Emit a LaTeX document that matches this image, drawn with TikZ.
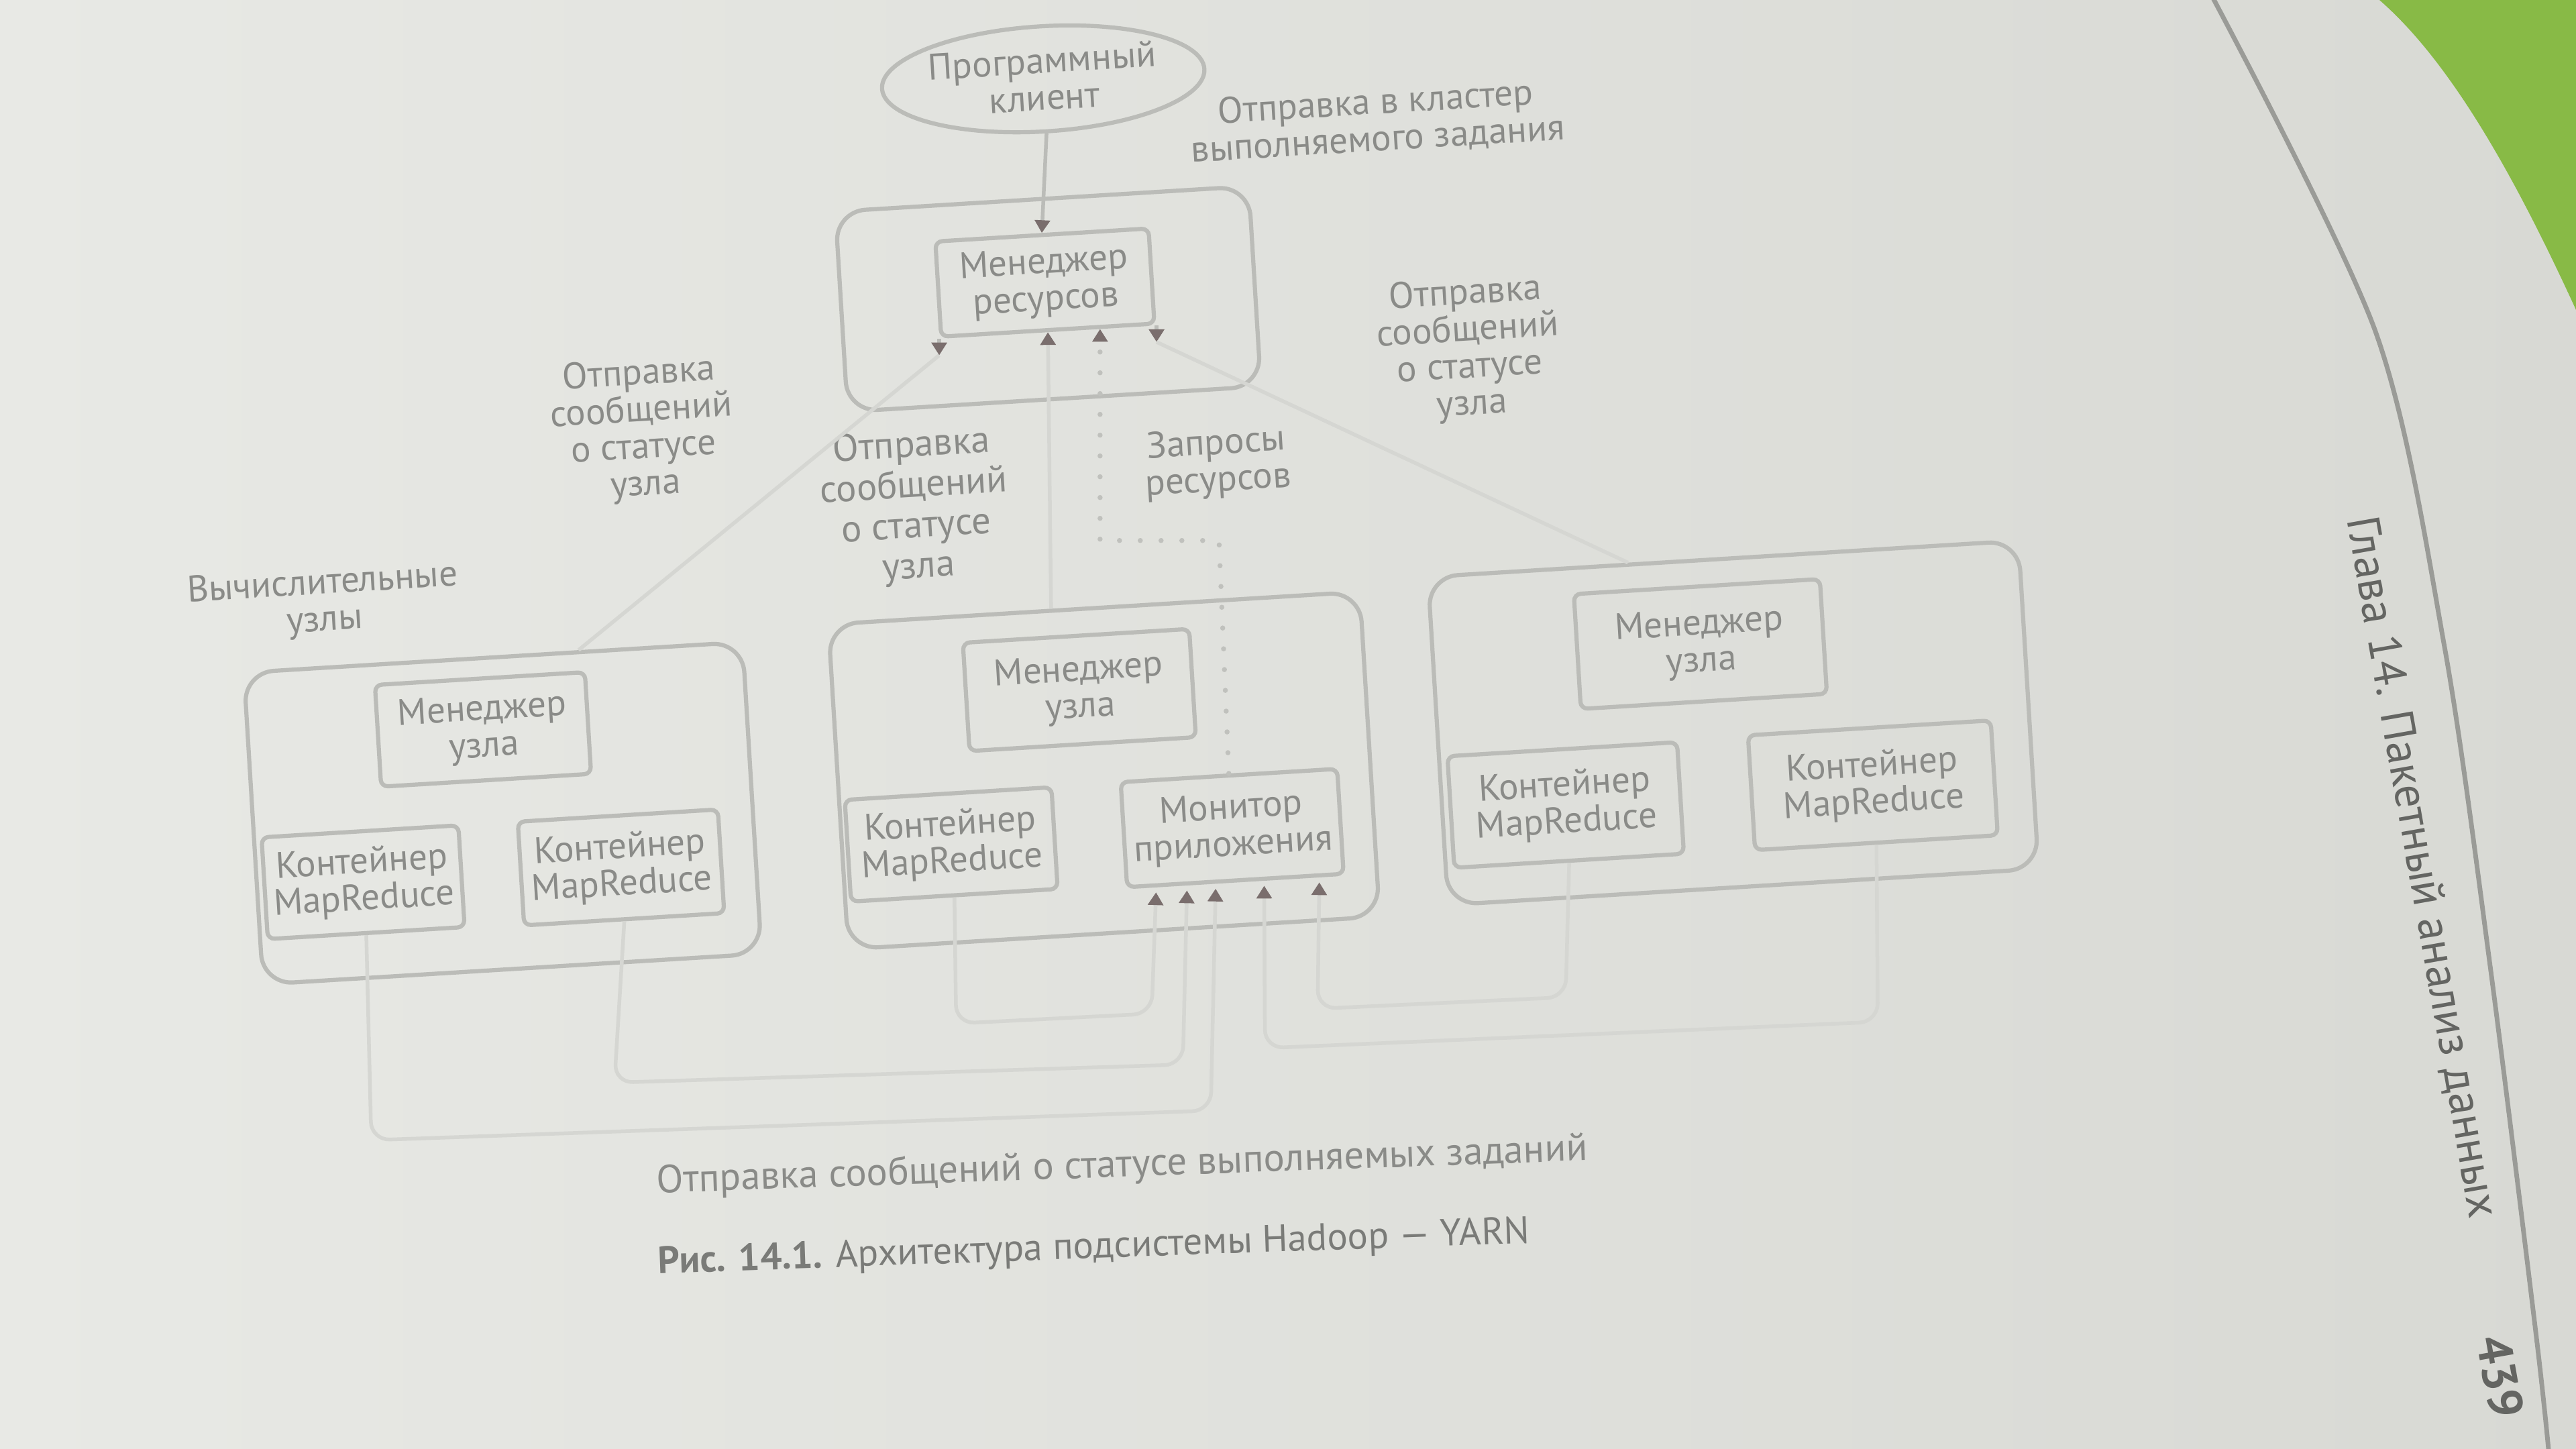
\documentclass[tikz,border=0pt]{standalone}
\usepackage{fontspec}
\setmainfont{PT Sans}
\usetikzlibrary{arrows.meta,shapes.geometric,calc}
\definecolor{bgL}{HTML}{E8E9E5}
\definecolor{bgR}{HTML}{D8D9D4}
\definecolor{boxc}{HTML}{BBBCB8}
\definecolor{faintc}{HTML}{D5D6D2}
\definecolor{dotc}{HTML}{C0C1BD}
\definecolor{txtc}{HTML}{8A8B88}
\definecolor{capc}{HTML}{7A7B78}
\definecolor{tipc}{HTML}{7A6E6D}
\definecolor{leafc}{HTML}{88BA46}
\definecolor{edgec}{HTML}{9A9B97}
\definecolor{hdrc}{HTML}{646562}
\tikzset{
  dtext/.style={text=txtc, font=\fontsize{16}{16}\selectfont, align=center},
  outerbox/.style={draw=boxc, line width=1.8pt, rounded corners=13pt, rotate=3.5},
  innerbox/.style={draw=boxc, line width=1.8pt, rounded corners=3pt, rotate=3.5, dtext, inner sep=0pt},
  lbl/.style={dtext, rotate=3.5, inner sep=0pt},
  faintline/.style={draw=faintc, line width=1.6pt},
  boxline/.style={draw=boxc, line width=1.6pt},
  tipT/.style={-{Triangle[length=5.5pt,width=6.5pt,color=tipc]}},
  dotline/.style={draw=dotc, line width=2.2pt, line cap=round, dash pattern=on 0pt off 9pt},
}
\begin{document}
\begin{tikzpicture}[x=0.025cm,y=-0.025cm]
\useasboundingbox (0,0) rectangle (1568,882);
% page background
\fill[left color=bgL, right color=bgR] (0,0) rectangle (1568,882);
\fill[leafc] (1446,-2) .. controls (1490,35) and (1530,105) .. (1570,193) -- (1570,-2) -- cycle;
\draw[draw=edgec, line width=2pt] plot[smooth] coordinates {(1345,-5) (1446,202) (1488,394) (1516,590) (1544,815) (1552,890)};

% header and page number
\node[text=hdrc, font=\fontsize{20}{24}\selectfont, rotate=-80] (hdr) at (1474,528) {Глава 14. Пакетный анализ данных};
\node[text=hdrc, font=\bfseries\fontsize{21}{24}\selectfont, rotate=-80] (pg) at (1522,838) {439};

% client and resource manager
\node[draw=boxc, line width=1.8pt, ellipse, rotate=3.5, minimum width=4.7cm, minimum height=1.6cm, dtext, inner sep=0pt] (client) at (635,48) {Программный\\клиент};
\node[lbl] (lsend) at (838,74) {Отправка в кластер\\выполняемого задания};
\node[outerbox, minimum width=6.3cm, minimum height=3.05cm] (rm) at (638,182) {};
\node[innerbox, minimum width=3.25cm, minimum height=1.45cm] (rmi) at (636,172) {Менеджер\\ресурсов};

% node 1
\node[outerbox, minimum width=7.6cm, minimum height=4.75cm] (n1) at (306,495) {};
\node[innerbox, minimum width=3.2cm, minimum height=1.55cm] (n1m) at (294,444) {Менеджер\\узла};
\node[innerbox, minimum width=3.0cm, minimum height=1.55cm] (n1c1) at (221,537) {Контейнер\\MapReduce};
\node[innerbox, minimum width=3.05cm, minimum height=1.58cm] (n1c2) at (378,528) {Контейнер\\MapReduce};

% node 2
\node[outerbox, minimum width=8.1cm, minimum height=4.95cm] (n2) at (672,469) {};
\node[innerbox, minimum width=3.45cm, minimum height=1.65cm] (n2m) at (657,420) {Менеджер\\узла};
\node[innerbox, minimum width=3.15cm, minimum height=1.55cm] (n2c) at (579,514) {Контейнер\\MapReduce};
\node[innerbox, minimum width=3.3cm, minimum height=1.6cm] (am) at (750,504) {Монитор\\приложения};

% node 3
\node[outerbox, minimum width=9.0cm, minimum height=5.0cm] (n3) at (1055,440) {};
\node[innerbox, minimum width=3.75cm, minimum height=1.75cm] (n3m) at (1035,392) {Менеджер\\узла};
\node[innerbox, minimum width=3.5cm, minimum height=1.7cm] (n3c1) at (953,490) {Контейнер\\MapReduce};
\node[innerbox, minimum width=3.7cm, minimum height=1.75cm] (n3c2) at (1140,478) {Контейнер\\MapReduce};

% labels
\node[lbl] (l1) at (391,262) {Отправка\\сообщений\\о статусе\\узла};
\node[lbl, font=\fontsize{16.5}{17.5}\selectfont] (l2) at (557,309) {Отправка\\сообщений\\о статусе\\узла};
\node[lbl] (l3) at (894,213) {Отправка\\сообщений\\о статусе\\узла};
\node[lbl] (lreq) at (741,282) {Запросы\\ресурсов};
\node[lbl] (lcomp) at (197,367) {Вычислительные\\узлы};

% connectors: client -> RM
\draw[boxline, tipT] (client.south) -- (rmi.north);
% RM corner tips and node status lines
\coordinate (rmL) at ($(rmi.south west)+(0,10)$);
\coordinate (rmR) at ($(rmi.south east)+(0,10)$);
\draw[boxline, tipT] (rmi.south west) -- (rmL);
\draw[boxline, tipT] (rmi.south east) -- (rmR);
\draw[faintline] (rmL) -- ($(n1.north west)!0.67!(n1.north east)$);
\draw[faintline] (rmR) -- ($(n3.north west)!0.34!(n3.north east)$);
\draw[faintline, tipT] ($(n2.north west)!0.42!(n2.north east)$) -- ($(rmi.south west)!0.5!(rmi.south east)$);
% resource requests (dotted)
\coordinate (dq) at (742,329);
\draw[dotline, tipT] (am.north) -- (dq) -| ($(rmi.south west)!0.74!(rmi.south east)$);

% task status loops to application monitor
\coordinate (tA) at ($(am.south west)!0.41!(am.south east)+(0,3)$);
\coordinate (tB) at ($(am.south west)!0.28!(am.south east)+(0,3)$);
\coordinate (tC) at ($(am.south west)!0.14!(am.south east)+(0,3)$);
\coordinate (tD) at ($(am.south west)!0.63!(am.south east)+(0,3)$);
\coordinate (tE) at ($(am.south west)!0.88!(am.south east)+(0,3)$);
\draw[faintline, rounded corners=8pt, tipT] (n1c1.south) -- (226,694) -- (737,676) -- (tA);
\draw[faintline, rounded corners=8pt, tipT] (n1c2.south) -- (374,659) -- (720,648) -- (tB);
\draw[faintline, rounded corners=8pt, tipT] (n2c.south) -- (582,623) -- (701,617) -- (tC);
\draw[faintline, rounded corners=8pt, tipT] (n3c2.south) -- (1143,622) -- (770,638) -- (tD);
\draw[faintline, rounded corners=8pt, tipT] (n3c1.south) -- (953,607) -- (802,614) -- (tE);

% footer texts
\node[text=txtc, font=\fontsize{17}{20}\selectfont, rotate=2] (foot) at (683,710) {Отправка сообщений о статусе выполняемых заданий};
\node[text=capc, font=\fontsize{16.5}{20}\selectfont, rotate=2] (cap) at (666,760) {\textbf{Рис. 14.1.} Архитектура подсистемы Hadoop — YARN};
\end{tikzpicture}
\end{document}
